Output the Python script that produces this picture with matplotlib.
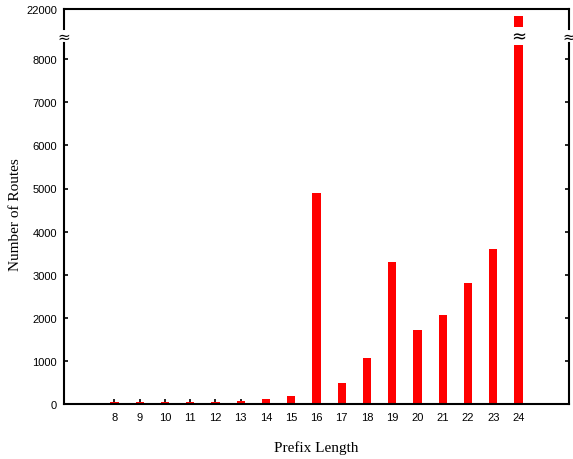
import matplotlib
matplotlib.use("Agg")
import matplotlib.pyplot as plt

prefix_lengths = [8, 9, 10, 11, 12, 13, 14, 15, 16, 17, 18, 19, 20, 21, 22, 23, 24]
routes = [45, 45, 45, 45, 45, 70, 110, 185, 4890, 490, 1075, 3300, 1717, 2072, 2807, 3603, 21650]
lower_ticks = [0, 1000, 2000, 3000, 4000, 5000, 6000, 7000, 8000]
upper_ticks = [22000]

W, H = 573, 460
fig = plt.figure(figsize=(W / 100, H / 100), dpi=100)

left = 64 / W
width = (569 - 64) / W
ax = fig.add_axes([left, 1 - 405 / H, width, (405 - 44) / H])
axt = fig.add_axes([left, 1 - 30 / H, width, 20 / H], sharex=ax)

bar_w = 0.33
for a in (ax, axt):
    a.bar(prefix_lengths, routes, width=bar_w, color="#ff0000", zorder=2)
    for s in a.spines.values():
        s.set_linewidth(1.5)

ax.set_xlim(6, 26)
ax.set_ylim(0, (405 - 44) / 43.1 * 1000)
axt.set_ylim(21000, 22000)

ax.set_xticks(prefix_lengths)
ax.set_xticklabels([str(p) for p in prefix_lengths])
ax.set_yticks(lower_ticks)
ax.tick_params(axis="x", direction="in", length=3.5, width=1.2, top=False,
               labelsize=8, pad=6)
ax.tick_params(axis="y", direction="in", length=3, width=1.2, left=True, right=True,
               labelsize=8, pad=5)
ax.spines["top"].set_visible(False)

axt.spines["bottom"].set_visible(False)
axt.set_yticks(upper_ticks)
axt.tick_params(axis="y", direction="in", length=0, labelsize=8, pad=5)
axt.tick_params(axis="x", bottom=False, top=False, labelbottom=False)

for lab in ax.get_xticklabels() + ax.get_yticklabels() + axt.get_yticklabels():
    lab.set_fontfamily("Liberation Sans")

ax.set_xlabel("Prefix Length", fontfamily="Liberation Serif", fontsize=11, labelpad=13)
fig.text(16 / W, 1 - 215 / H, "Number of Routes", rotation=90, fontfamily="Liberation Serif",
         fontsize=11, ha="center", va="center")

# break marks
ybrk = 1 - 37 / H
for xp in (64, 569):
    fig.text(xp / W, ybrk, "≈", fontsize=11, ha="center", va="center",
             fontfamily="DejaVu Sans", zorder=5)
fig.text(519 / W, ybrk, "≈", fontsize=13, ha="center", va="center",
         fontfamily="DejaVu Sans", zorder=5,
         bbox=dict(facecolor="white", edgecolor="none", boxstyle="square,pad=0.0"))

fig.savefig("out.png", dpi=100)
